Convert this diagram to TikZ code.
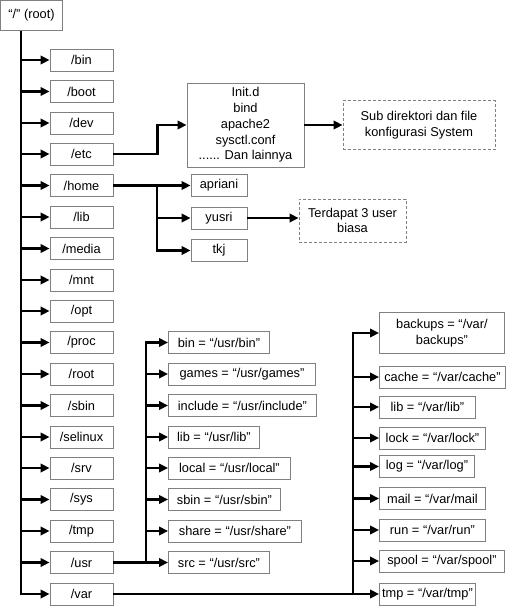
\documentclass[tikz,border=0pt]{standalone}
\usepackage{fontspec}
\setmainfont{Liberation Sans}
\usetikzlibrary{arrows.meta}

\begin{document}
\begin{tikzpicture}[x=1pt,y=-1pt,
    box/.style={draw=black!50, line width=0.9pt, minimum height=22, inner sep=0pt, font=\fontsize{12.8}{15.8}\selectfont},
    dir/.style={box, minimum width=63},
    note/.style={box, dash pattern=on 3pt off 2pt, align=center},
    link/.style={line width=2.7pt, -{Triangle[length=9pt,width=8.5pt]}}]
  	\useasboundingbox (0,0) rectangle (506,606);

  	\node[box, minimum width=62, minimum height=30] (top) at (31.5,15.5) {“/” (root)};
  	\coordinate (trunk) at (21,0);

      \node[dir] (bin) at (81.5,60) {/bin};
      \node[dir] (boot) at (81.5,91.5) {/boot};
      \node[dir] (dev) at (81.5,123) {/dev};
      \node[dir] (etc) at (81.5,154) {/etc};
      \node[dir] (home) at (81.5,185.5) {/home};
      \node[dir] (lib) at (81.5,217) {/lib};
      \node[dir] (media) at (81.5,248.5) {/media};
      \node[dir] (mnt) at (81.5,280) {/mnt};
      \node[dir] (opt) at (81.5,311) {/opt};
      \node[dir] (proc) at (81.5,342.5) {/proc};
      \node[dir] (rootdir) at (81.5,374) {/root};
      \node[dir] (sbin) at (81.5,405.5) {/sbin};
      \node[dir] (selinux) at (81.5,437) {/selinux};
      \node[dir] (srv) at (81.5,468) {/srv};
      \node[dir] (sys) at (81.5,499.5) {/sys};
      \node[dir] (tmp) at (81.5,531) {/tmp};
      \node[dir] (usr) at (81.5,562.5) {/usr};
      \node[dir] (var) at (81.5,594) {/var};

  	\draw[link] (top.south -| trunk) |- (var.west);
  	\draw[link] (trunk |- bin.west) -- (bin.west);
  	\draw[link] (trunk |- boot.west) -- (boot.west);
  	\draw[link] (trunk |- dev.west) -- (dev.west);
  	\draw[link] (trunk |- etc.west) -- (etc.west);
  	\draw[link] (trunk |- home.west) -- (home.west);
  	\draw[link] (trunk |- lib.west) -- (lib.west);
  	\draw[link] (trunk |- media.west) -- (media.west);
  	\draw[link] (trunk |- mnt.west) -- (mnt.west);
  	\draw[link] (trunk |- opt.west) -- (opt.west);
  	\draw[link] (trunk |- proc.west) -- (proc.west);
  	\draw[link] (trunk |- rootdir.west) -- (rootdir.west);
  	\draw[link] (trunk |- sbin.west) -- (sbin.west);
  	\draw[link] (trunk |- selinux.west) -- (selinux.west);
  	\draw[link] (trunk |- srv.west) -- (srv.west);
  	\draw[link] (trunk |- sys.west) -- (sys.west);
  	\draw[link] (trunk |- tmp.west) -- (tmp.west);
  	\draw[link] (trunk |- usr.west) -- (usr.west);

  	\node[box, minimum width=117, minimum height=84, align=center] (initd) at (245.5,125)
  	  {Init.d\\bind\\apache2\\sysctl.conf\\...... Dan lainnya};
  	\node[note, minimum width=152, minimum height=49] (etcnote) at (419,125) {Sub direktori dan file\\konfigurasi System};
  	\draw[link] (etc.east) -- ++(44,0) |- (initd.west);
  	\draw[link] (initd.east) -- (etcnote.west);

      \node[box, minimum width=56] (apriani) at (219,185.5) {apriani};
      \node[box, minimum width=56] (yusri) at (219,218) {yusri};
      \node[box, minimum width=56] (tkj) at (219,250.5) {tkj};
  	\node[note, minimum width=107, minimum height=43] (usernote) at (352.5,220.5) {Terdapat 3 user\\biasa};
  	\coordinate (hsplit) at (157,0);
  	\draw[link] (home.east) -- (apriani.west);
  	\draw[link] (hsplit |- home.east) |- (tkj.west);
  	\draw[link] (hsplit |- yusri.west) -- (yusri.west);
  	\draw[link] (yusri.east) -- (yusri.east -| usernote.west);

      \node[box, anchor=west, minimum width=101] (ubin) at (168,342.5) {bin = “/usr/bin”};
      \node[box, anchor=west, minimum width=147] (ugames) at (168,374) {games = “/usr/games”};
      \node[box, anchor=west, minimum width=148] (uinclude) at (168,405.5) {include = “/usr/include”};
      \node[box, anchor=west, minimum width=91] (ulib) at (168,437) {lib = “/usr/lib”};
      \node[box, anchor=west, minimum width=122] (ulocal) at (168,468) {local = “/usr/local”};
      \node[box, anchor=west, minimum width=112] (usbin) at (168,499.5) {sbin = “/usr/sbin”};
      \node[box, anchor=west, minimum width=133] (ushare) at (168,531) {share = “/usr/share”};
      \node[box, anchor=west, minimum width=101] (usrc) at (168,562.5) {src = “/usr/src”};
  	\coordinate (usplit) at (146,0);
  	\draw[link] (usr.east) -- (usrc.west);
  	\draw[link] (usplit |- usr.east) |- (ubin.west);
  	\draw[link] (usplit |- ugames.west) -- (ugames.west);
  	\draw[link] (usplit |- uinclude.west) -- (uinclude.west);
  	\draw[link] (usplit |- ulib.west) -- (ulib.west);
  	\draw[link] (usplit |- ulocal.west) -- (ulocal.west);
  	\draw[link] (usplit |- usbin.west) -- (usbin.west);
  	\draw[link] (usplit |- ushare.west) -- (ushare.west);

      \node[box, anchor=west, minimum width=125, minimum height=41, align=center] (vbackups) at (379,333) {backups = “/var/\\backups”};
      \node[box, anchor=west, minimum width=126] (vcache) at (379,377) {cache = “/var/cache”};
      \node[box, anchor=west, minimum width=96] (vlib) at (379,407) {lib = “/var/lib”};
      \node[box, anchor=west, minimum width=106] (vlock) at (379,438) {lock = “/var/lock”};
      \node[box, anchor=west, minimum width=95] (vlog) at (379,466.5) {log = “/var/log”};
      \node[box, anchor=west, minimum width=106] (vmail) at (379,498.5) {mail = “/var/mail};
      \node[box, anchor=west, minimum width=106] (vrun) at (379,530) {run = “/var/run”};
      \node[box, anchor=west, minimum width=125] (vspool) at (379,561) {spool = “/var/spool”};
      \node[box, anchor=west, minimum width=96] (vtmp) at (379,594) {tmp = “/var/tmp”};
  	\coordinate (vsplit) at (353,0);
  	\draw[link] (var.east) -- (vtmp.west);
  	\draw[link] (vsplit |- var.east) |- (vbackups.west);
  	\draw[link] (vsplit |- vcache.west) -- (vcache.west);
  	\draw[link] (vsplit |- vlib.west) -- (vlib.west);
  	\draw[link] (vsplit |- vlock.west) -- (vlock.west);
  	\draw[link] (vsplit |- vlog.west) -- (vlog.west);
  	\draw[link] (vsplit |- vmail.west) -- (vmail.west);
  	\draw[link] (vsplit |- vrun.west) -- (vrun.west);
  	\draw[link] (vsplit |- vspool.west) -- (vspool.west);
  \end{tikzpicture}
\end{document}
